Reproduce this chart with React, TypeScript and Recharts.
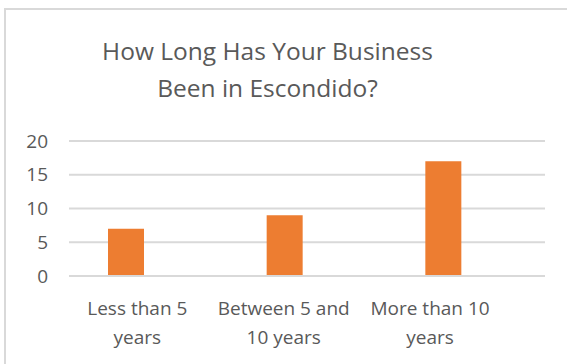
import { Bar, BarChart, CartesianGrid, XAxis, YAxis } from "recharts";

const categories = ["Less than 5 years", "Between 5 and 10 years", "More than 10 years"];
const categoryLines = [
  ["Less than 5", "years"],
  ["Between 5 and", "10 years"],
  ["More than 10", "years"],
];
const businessCounts = [7, 9, 17];
// empty second series, keeps the bars off-centre like the Excel original
const emptySeries = [null, null, null];
const yTicks = [0, 5, 10, 15, 20];
const titleLines = ["How Long Has Your Business", "Been in Escondido?"];

const data = categories.map((name, i) => ({
  name,
  count: businessCounts[i],
  other: emptySeries[i],
}));

const FONT = '"Open Sans", sans-serif';
const TEXT = "#595959";
const GRID = "#D9D9D9";

function CategoryTick(props: any) {
  const { x, y, payload, index } = props;
  const lines = categoryLines[categories.indexOf(payload.value)] ?? [payload.value];
  // Excel packs the wrapped labels a bit tighter than the categories
  const lx = x - 11 - 12.3 * (index ?? 0);
  return (
    <text x={lx} y={y} textAnchor="middle" fill={TEXT} fontSize={19} fontFamily={FONT}>
      {lines.map((line, i) => (
        <tspan key={line} x={lx} dy={i === 0 ? 31 : 29}>
          {line}
        </tspan>
      ))}
    </text>
  );
}

export default function App() {
  return (
    <div
      style={{
        position: "fixed",
        left: 0,
        top: 0,
        width: 567,
        height: 364,
        overflow: "hidden",
        background: "#fff",
      }}
    >
      <div
        style={{
          position: "absolute",
          left: 4,
          top: 8,
          width: 620,
          height: 420,
          border: `2px solid ${GRID}`,
        }}
      />
      <div
        style={{
          position: "absolute",
          left: 0,
          top: 32,
          width: 535,
          textAlign: "center",
          fontFamily: FONT,
          fontSize: 24.5,
          lineHeight: "37px",
          color: TEXT,
        }}
      >
        {titleLines.map((line) => (
          <div key={line}>{line}</div>
        ))}
      </div>
      <div style={{ position: "absolute", left: 0, top: 0 }}>
        <BarChart
          width={567}
          height={364}
          data={data}
          margin={{ top: 141, right: 22, bottom: 28, left: 9 }}
          barSize={36}
          barGap={9}
        >
          <CartesianGrid vertical={false} stroke={GRID} strokeWidth={2} />
          <XAxis
            dataKey="name"
            height={60}
            axisLine={{ stroke: GRID, strokeWidth: 2 }}
            tickLine={false}
            tick={<CategoryTick />}
            interval={0}
          />
          <YAxis
            width={60}
            domain={[0, 20]}
            ticks={yTicks}
            axisLine={false}
            tickLine={false}
            tickMargin={15}
            tick={{ fill: TEXT, fontSize: 19, fontFamily: FONT }}
          />
          <Bar dataKey="count" fill="#ED7D31" isAnimationActive={false} />
          <Bar dataKey="other" fill="#A5A5A5" isAnimationActive={false} />
        </BarChart>
      </div>
    </div>
  );
}
